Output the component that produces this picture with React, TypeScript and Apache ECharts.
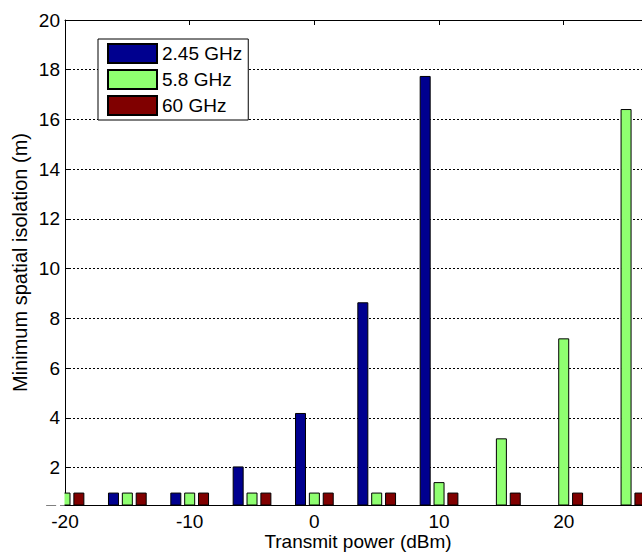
import React, { useEffect, useRef } from "react";
import * as echarts from "echarts";

// Transmit power steps (dBm) at which each band was evaluated
const powerLevels = [-20, -15, -10, -5, 0, 5, 10, 15, 20, 25];

// Minimum spatial isolation (m) per band
const isolation245 = [1, 1, 1, 2.05, 4.2, 8.65, 17.75, null, null, null];
const isolation58 = [1, 1, 1, 1, 1, 1, 1.42, 3.18, 7.2, 16.42];
const isolation60 = [1, 1, 1, 1, 1, 1, 1, 1, 1, 1];

const seriesNames = ["2.45 GHz", "5.8 GHz", "60 GHz"];
const seriesColors = ["#00008f", "#8fff70", "#800000"];

const xTickValues = [-20, -10, 0, 10, 20];
const yTickValues = [2, 4, 6, 8, 10, 12, 14, 16, 18, 20];

const FONT = "'Liberation Sans', Arial, sans-serif";

const GRID_LEFT = 65;
const GRID_TOP = 20;
const GRID_HEIGHT = 485;

function toPairs(values: (number | null)[]) {
  const out: [number, number][] = [];
  powerLevels.forEach((p, i) => {
    const v = values[i];
    if (v !== null && v !== undefined) out.push([p, v]);
  });
  return out;
}

export default function App() {
  const ref = useRef<HTMLDivElement>(null);

  useEffect(() => {
    if (!ref.current) return;
    const chart = echarts.init(ref.current, undefined, { renderer: "svg" });

    const allValues = [isolation245, isolation58, isolation60];

    chart.setOption({
      animation: false,
      backgroundColor: "#fff",
      textStyle: { fontFamily: FONT },
      grid: {
        left: GRID_LEFT,
        top: GRID_TOP,
        width: 586,
        height: GRID_HEIGHT,
        containLabel: false,
        outerBoundsMode: "none",
      },
      legend: {
        orient: "vertical",
        left: 98,
        top: 39,
        data: seriesNames,
        icon: "rect",
        itemWidth: 49,
        itemHeight: 19,
        itemGap: 5,
        padding: [4, 6, 4, 9],
        borderColor: "#000",
        borderWidth: 1,
        borderRadius: 0,
        backgroundColor: "#fff",
        textStyle: { fontSize: 19, color: "#000", fontFamily: FONT },
      },
      // bars on a value axis are not clipped along the base axis, so the
      // part of the first group left of the plot frame is masked here
      graphic: [
        {
          type: "rect",
          z: 100,
          silent: true,
          shape: { x: 0, y: 476, width: GRID_LEFT - 0.5, height: GRID_TOP + GRID_HEIGHT - 476 },
          style: { fill: "#fff" },
        },
      ],
      xAxis: [
        {
          type: "value",
          position: "bottom",
          min: -20,
          max: 27,
          name: "Transmit power (dBm)",
          nameLocation: "middle",
          nameGap: 27,
          nameMoveOverlap: false,
          nameTextStyle: { fontSize: 19, color: "#000", fontFamily: FONT },
          axisLine: { show: true, onZero: false, lineStyle: { color: "#000", width: 1 } },
          axisTick: {
            show: true,
            inside: true,
            length: 5,
            customValues: xTickValues,
            lineStyle: { color: "#000" },
          },
          axisLabel: {
            show: true,
            customValues: xTickValues,
            margin: 7,
            fontSize: 19,
            color: "#000",
            fontFamily: FONT,
            showMinLabel: true,
          },
          splitLine: { show: false },
        },
        {
          type: "value",
          position: "top",
          min: -20,
          max: 27,
          axisLine: { show: true, onZero: false, lineStyle: { color: "#000", width: 1 } },
          axisTick: {
            show: true,
            inside: true,
            length: 5,
            customValues: xTickValues,
            lineStyle: { color: "#000" },
          },
          axisLabel: { show: false },
          splitLine: { show: false },
        },
      ],
      yAxis: {
        type: "value",
        min: 0.5,
        max: 20,
        name: "Minimum spatial isolation (m)",
        nameLocation: "middle",
        nameGap: 35,
        nameMoveOverlap: false,
        nameTextStyle: { fontSize: 20, color: "#000", fontFamily: FONT },
        axisLine: { show: true, onZero: false, lineStyle: { color: "#000", width: 1 } },
        axisTick: {
          show: true,
          inside: true,
          length: 5,
          customValues: yTickValues,
          lineStyle: { color: "#000" },
        },
        axisLabel: {
          customValues: yTickValues,
          margin: 5,
          fontSize: 19,
          color: "#000",
          fontFamily: FONT,
        },
        splitLine: {
          show: true,
          lineStyle: { color: "#000", width: 1, type: [2, 2] },
        },
      },
      series: seriesNames.map((name, k) => ({
        name,
        type: "bar",
        xAxisIndex: 0,
        barWidth: 11,
        barGap: "26%",
        clip: true,
        data: toPairs(allValues[k]),
        itemStyle: {
          color: seriesColors[k],
          borderColor: "#000",
          borderWidth: 1,
        },
        emphasis: { disabled: true },
      })),
    });

    return () => chart.dispose();
  }, []);

  return (
    <div
      ref={ref}
      style={{ position: "fixed", left: 0, top: 0, width: 642, height: 553 }}
    />
  );
}
